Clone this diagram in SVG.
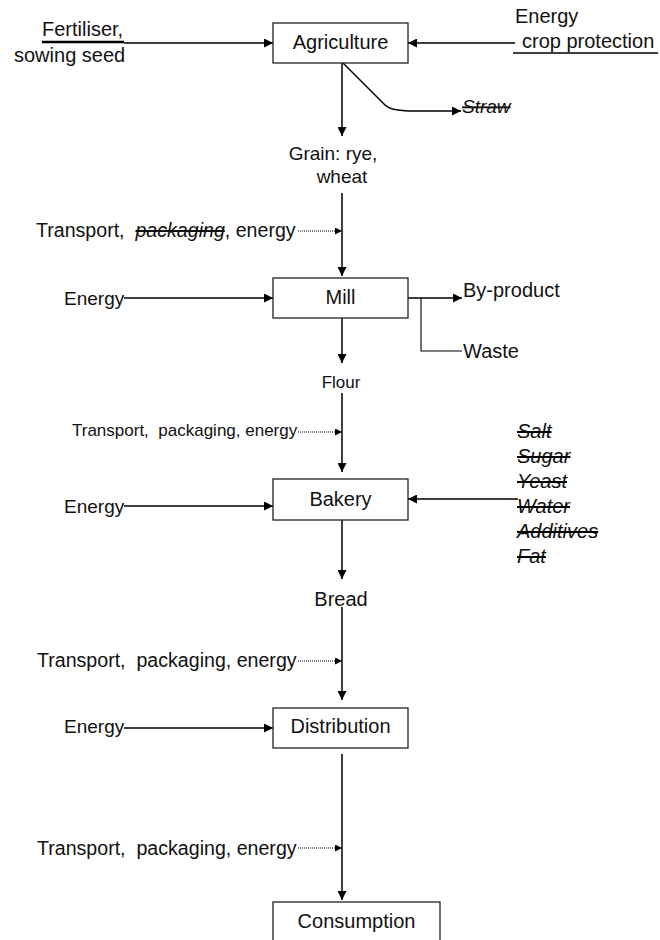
<svg xmlns="http://www.w3.org/2000/svg" width="660" height="940" viewBox="0 0 660 940">
<style>
text{font-family:"Liberation Sans",Arial,sans-serif;font-size:20px;fill:#111;white-space:pre}
.sm{font-size:17px}
.tr{font-size:19.6px}
.en{font-size:19px}
.it{font-style:italic}
.st{text-decoration:line-through}
.mid{text-anchor:middle}
.box{fill:#fff;stroke:#222;stroke-width:1.3}
.ln{fill:none;stroke:#000;stroke-width:1.5}
.thin{fill:none;stroke:#000;stroke-width:1.1}
.dot{fill:none;stroke:#000;stroke-width:1.2;stroke-dasharray:1 1}
</style>
<defs>
<marker id="ah" markerUnits="userSpaceOnUse" markerWidth="9" markerHeight="9" refX="9" refY="4.5" orient="auto"><path d="M0,0 L9,4.5 L0,9 z" fill="#000"/></marker>
<marker id="ahs" markerUnits="userSpaceOnUse" markerWidth="7" markerHeight="7" refX="7" refY="3.5" orient="auto"><path d="M0,0 L7,3.5 L0,7 z" fill="#000"/></marker>
</defs>

<g id="connectors">
<line class="ln" x1="42" y1="42" x2="124" y2="42" style="stroke-width:2.5"/>
<line class="ln" x1="124" y1="43" x2="273" y2="43" marker-end="url(#ah)"/>
<line class="ln" x1="515" y1="43" x2="408" y2="43" marker-end="url(#ah)"/>
<line class="ln" x1="513" y1="53" x2="658" y2="53"/>
<line class="ln" x1="342" y1="63" x2="342" y2="136" marker-end="url(#ah)"/>
<path class="ln" d="M343,63 L385,105 C389,109 395,110.5 410,111 L461,111" marker-end="url(#ah)"/>
<line class="ln" x1="342" y1="193" x2="342" y2="276" marker-end="url(#ah)"/>
<line class="dot" x1="298" y1="231" x2="342" y2="231" marker-end="url(#ahs)"/>
<line class="ln" x1="124" y1="298" x2="273" y2="298" marker-end="url(#ah)"/>
<line class="ln" x1="408" y1="298" x2="462" y2="298" marker-end="url(#ah)"/>
<path class="thin" d="M421,298 L421,351 L462,351"/>
<line class="ln" x1="342" y1="312" x2="342" y2="363" marker-end="url(#ah)"/>
<line class="ln" x1="342" y1="393" x2="342" y2="472" marker-end="url(#ah)"/>
<line class="dot" x1="298" y1="432" x2="342" y2="432" marker-end="url(#ahs)"/>
<line class="ln" x1="124" y1="506" x2="273" y2="506" marker-end="url(#ah)"/>
<line class="ln" x1="518" y1="499" x2="408" y2="499" marker-end="url(#ah)"/>
<line class="ln" x1="342" y1="513" x2="342" y2="579" marker-end="url(#ah)"/>
<line class="ln" x1="342" y1="607" x2="342" y2="700" marker-end="url(#ah)"/>
<line class="dot" x1="298" y1="661" x2="342" y2="661" marker-end="url(#ahs)"/>
<line class="ln" x1="124" y1="728" x2="273" y2="728" marker-end="url(#ah)"/>
<line class="ln" x1="342" y1="754" x2="342" y2="900" marker-end="url(#ah)"/>
<line class="dot" x1="298" y1="848" x2="342" y2="848" marker-end="url(#ahs)"/>
</g>

<g id="agriculture">
<rect class="box" x="273" y="23" width="135" height="40"/>
<text class="mid" x="340.5" y="49">Agriculture</text>
</g>
<g id="mill">
<rect class="box" x="273" y="278" width="135" height="40"/>
<text class="mid" x="340.5" y="304">Mill</text>
</g>
<g id="bakery">
<rect class="box" x="273" y="479" width="135" height="41"/>
<text class="mid" x="340.5" y="506">Bakery</text>
</g>
<g id="distribution">
<rect class="box" x="273" y="708" width="135" height="40"/>
<text class="mid" x="340.5" y="733">Distribution</text>
</g>
<g id="consumption">
<rect class="box" x="273" y="902" width="167" height="42"/>
<text class="mid" x="356.5" y="928">Consumption</text>
</g>

<g id="labels">
<text x="42" y="36">Fertiliser,</text>
<text x="14" y="62">sowing seed</text>
<text x="515" y="23">Energy</text>
<text x="522" y="48">crop protection</text>
<text class="it st" x="462" y="113" style="font-size:19px">Straw</text>
<text class="mid" x="333" y="160" style="font-size:19px">Grain: rye,</text>
<text class="mid" x="342" y="183" style="font-size:19px">wheat</text>
<text class="tr" x="36" y="237" xml:space="preserve">Transport,  <tspan class="it st">packaging</tspan>, energy</text>
<text class="en" x="64" y="305">Energy</text>
<text x="463" y="297">By-product</text>
<text x="463" y="358">Waste</text>
<text class="mid sm" x="341" y="388">Flour</text>
<text class="sm" x="72" y="436" xml:space="preserve">Transport,  packaging, energy</text>
<text class="en" x="64" y="513">Energy</text>
<g class="it st" style="font-size:19px">
<text x="517" y="438">Salt</text>
<text x="517" y="463">Sugar</text>
<text x="517" y="488">Yeast</text>
<text x="517" y="513">Water</text>
<text x="517" y="538">Additives</text>
<text x="517" y="563">Fat</text>
</g>
<text class="mid" x="341" y="606">Bread</text>
<text class="tr" x="37" y="667" xml:space="preserve">Transport,  packaging, energy</text>
<text class="en" x="64" y="733">Energy</text>
<text class="tr" x="37" y="855" xml:space="preserve">Transport,  packaging, energy</text>
</g>
</svg>
